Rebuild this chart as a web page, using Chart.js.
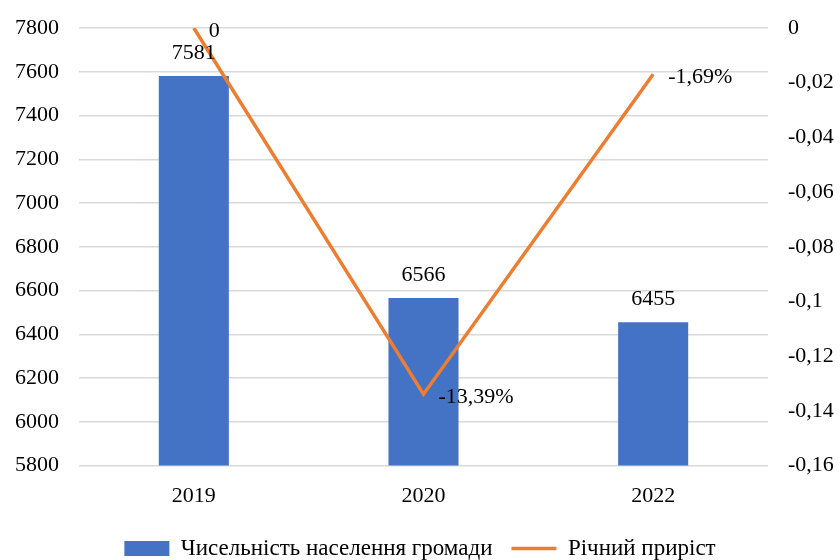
<!DOCTYPE html>
<html>
<head>
<meta charset="utf-8">
<script src="https://cdn.jsdelivr.net/npm/chart.js@4.4.0/dist/chart.umd.min.js"></script>
<style>
html,body{margin:0;padding:0;background:#fff;}
#wrap{width:840px;height:560px;}
</style>
</head>
<body>
<div id="wrap"><canvas id="c" width="840" height="560"></canvas></div>
<script>
const categories = ['2019', '2020', '2022'];
const population = [7581, 6566, 6455];
const growth = [0, -0.1339, -0.0169];
const growthLabels = ['0', '-13,39%', '-1,69%'];
const populationTicks = [5800, 7800, 200];
const growthTicks = [-0.16, 0, 0.02];

const FONT = "'Liberation Serif', 'Times New Roman', serif";

const labelPlugin = {
  id: 'valueLabels',
  afterDatasetsDraw(chart) {
    const ctx = chart.ctx;
    ctx.save();
    ctx.font = '22px ' + FONT;
    ctx.fillStyle = '#000';
    const barMeta = chart.getDatasetMeta(0);
    barMeta.data.forEach((el, i) => {
      ctx.textAlign = 'center';
      ctx.textBaseline = 'bottom';
      ctx.fillText(String(population[i]), el.x, el.y - 12);
    });
    const lineMeta = chart.getDatasetMeta(1);
    lineMeta.data.forEach((el, i) => {
      ctx.textAlign = 'left';
      ctx.textBaseline = 'middle';
      ctx.fillText(growthLabels[i], el.x + 15, el.y + 3);
    });
    ctx.restore();
  }
};

new Chart(document.getElementById('c'), {
  type: 'bar',
  data: {
    labels: categories,
    datasets: [
      {
        label: 'Чисельність населення громади',
        data: population,
        backgroundColor: '#4472C4',
        borderWidth: 0,
        categoryPercentage: 1,
        barPercentage: 0.305,
        yAxisID: 'y',
        pointStyle: 'rect',
        order: 2
      },
      {
        type: 'line',
        label: 'Річний приріст',
        data: growth,
        borderColor: '#ED7D31',
        backgroundColor: '#ED7D31',
        borderWidth: 3.5,
        pointRadius: 0,
        pointStyle: 'line',
        tension: 0,
        yAxisID: 'y1',
        order: 1
      }
    ]
  },
  options: {
    responsive: false,
    animation: false,
    layout: { padding: { top: 28, left: 0, right: 0, bottom: -10 } },
    plugins: {
      tooltip: { enabled: false },
      legend: {
        position: 'bottom',
        labels: {
          font: { family: FONT, size: 23 },
          color: '#000',
          usePointStyle: true,
          pointStyleWidth: 45,
          boxHeight: 15,
          padding: 19,
          sort: (a, b) => a.datasetIndex - b.datasetIndex
        }
      }
    },
    scales: {
      x: {
        grid: { display: false },
        border: { display: false },
        ticks: { font: { family: FONT, size: 22 }, color: '#000', padding: 9 }
      },
      y: {
        position: 'left',
        min: populationTicks[0],
        max: populationTicks[1],
        ticks: { stepSize: populationTicks[2], font: { family: FONT, size: 22 }, color: '#000', padding: 20, callback: v => String(v) },
        grid: { color: '#d9d9d9', lineWidth: 1.5, drawTicks: false },
        border: { display: false },
        afterFit(s) { s.width = 79; s.paddingTop = 0; s.paddingBottom = 0; }
      },
      y1: {
        position: 'right',
        min: growthTicks[0],
        max: growthTicks[1],
        ticks: {
          stepSize: growthTicks[2],
          font: { family: FONT, size: 22 },
          color: '#000',
          padding: 20,
          callback: v => String(Number(v.toFixed(2))).replace('.', ',')
        },
        grid: { display: false, drawTicks: false },
        border: { display: false },
        afterFit(s) { s.width = 72; s.paddingTop = 0; s.paddingBottom = 0; }
      }
    }
  },
  plugins: [labelPlugin]
});
</script>
</body>
</html>
